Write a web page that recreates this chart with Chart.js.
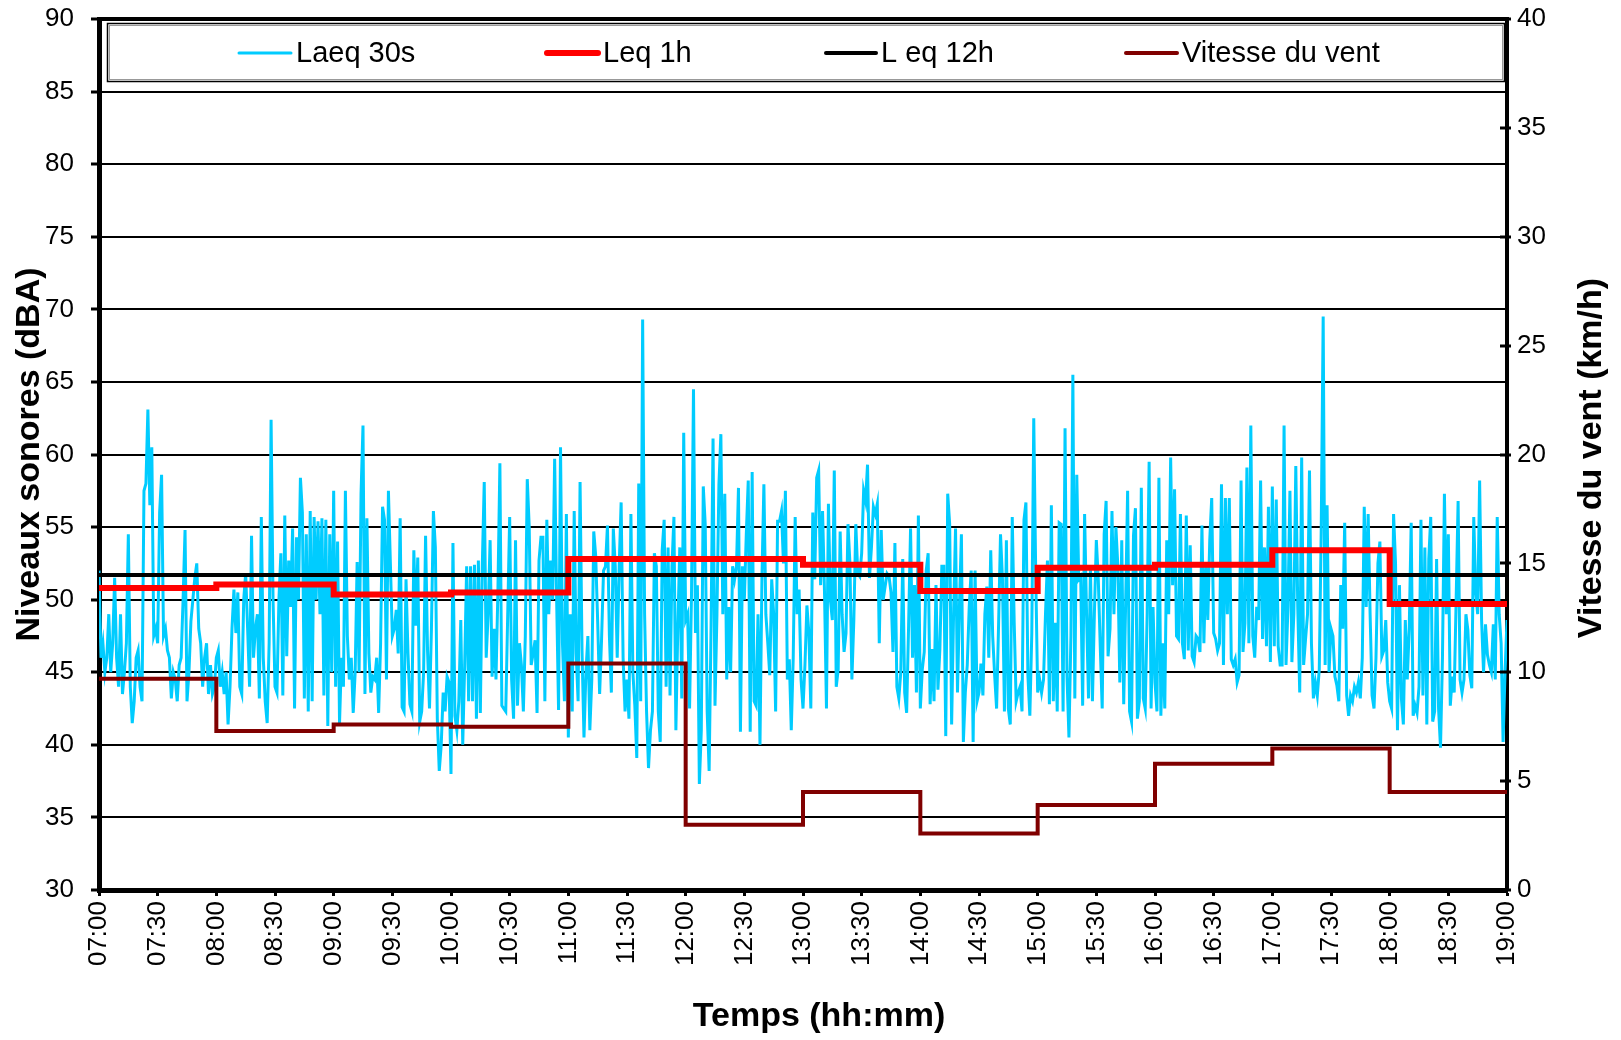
<!DOCTYPE html>
<html>
<head>
<meta charset="utf-8">
<script src="https://cdn.jsdelivr.net/npm/chart.js@4"></script>
<style>
body{margin:0;background:#fff;}
#wrap{width:1621px;height:1040px;}
</style>
</head>
<body>
<div id="wrap"><canvas id="chart" width="1621" height="1040"></canvas></div>
<script>

/* Data : Laeq 30s, one reading per minute, one array per hour */

const laeq07=[52,46,47,45,46,49,45,47,51.5,46,44,49,43.5,45,47,54.5,44,41.5,43,46,46.5,44,43,57.5,58,63.1,56.5,60.5,47.5,48,47,56,58.6,47.5,48,46.5,46,43.2,45,44.5,43,45.5,46,50,54.8,43,45,48.5,50,51.5,52.5,48,47,44,46,47,43.5,45.5,43.5,44];
const laeq08=[46,46.5,44,45,43.5,45,41.4,44,48,50.7,47.7,50.5,44,43.5,50,51.8,48,44,54.4,46,48,49,43.2,55.7,46,43,41.5,47,62.4,50,44,43.6,50,53.2,43.4,55.8,46.1,52.7,49.5,54.9,42.5,54.3,50,58.4,56,43.2,54.5,42.3,56.1,43,55.7,50,55.4,49,55.6,43.4,55.5,41.3,54.5,45];
const laeq09=[57.5,44,54,41.5,46,44,57.5,47.5,44.5,46,42.2,45,52.6,45,57.3,62,43.5,55.6,46.3,43.6,44.7,44.5,46,42.2,47,56.4,55.5,44.5,57.5,52.5,47.5,48,49.3,46.3,55.6,42.6,42.3,51.4,46.3,42.8,42.3,53.4,48.2,52.9,41.6,42.3,45,54.4,46.5,42.5,48,56.1,53.6,41.8,38.2,40,43.6,42.3,44.7,44.3];
const laeq10=[38,53.9,42,41,43,48.6,40,45.5,52.3,43,52.3,43,52.4,41.8,52.7,42.2,52.3,58.1,46,49,54.1,44.7,48,44.5,50.7,59.4,42.7,42.5,42.3,49,55.7,44.5,41.8,54.1,42.7,47,45.5,42.3,47.5,58.3,55,45.5,46.3,47.2,42.2,52.7,54.3,54.3,43,55.5,49,52.7,50,59.7,50.2,42.4,60.5,47,43,55.9];
const laeq11=[40.5,49,42.3,56.1,46.3,43,58.1,46.5,40.5,45,47.5,41,44.5,54.7,53,48.5,43.5,47.3,52,52.3,55.1,47.5,43.6,54.9,52.3,46,52.3,56.7,46,42.3,44.5,41.8,55.9,45,42.7,39.1,58,43,69.3,49,42.3,38.4,41,42.3,53.2,52.3,42.3,40.2,53.4,55.5,44,53.6,43.4,52.3,55.7,41,48.2,53.6,43.2,61.5];
const laeq12=[48.6,49,42.5,50.5,64.5,47.7,51,37.3,41,57.8,55.2,42.3,38.2,48.3,61.1,42.7,49,57.9,61.4,49,57.3,44.5,49.5,45,52.3,51.4,52.3,57.7,40.9,52.3,50,54.5,58.2,40.9,58.8,43,42.7,49,40,51.4,57.95,49,47,44.8,51.4,49,42.3,55.4,55.4,56.1,52.5,57.5,44.5,45.9,41,46,55.7,49,50.7,44.5];
const laeq13=[42.5,45.5,49.6,47.7,42.5,56,51.4,58.4,58.9,51,56.1,50.5,42.5,56.6,50,48.6,58.9,44,45.2,54.7,49,46.4,47.7,55.2,52.5,44.5,48.6,55.2,51.8,51.6,53.2,57.5,56.8,59.3,51.5,53.6,56.4,55.9,56.6,47,54.8,50,50.9,51.8,51.6,50.5,46.4,53.9,44,43.2,45,52.8,43.6,42.2,48.2,54.9,46,51,43.6,55.8];
const laeq14=[42.5,45.2,46.4,52,53.2,42.8,46.6,43,51,43.8,46.6,52.3,52.3,40.6,57.3,55.2,41.4,49,54.9,43.6,49.5,54.5,40.2,43.6,45.5,49.5,52,40.2,52,43,43.6,45.6,43.4,49,50.9,46,53.4,47.5,44.8,42.5,48.2,54.5,51.4,42.3,54.1,42.5,41.4,55.7,48.4,43,43.6,44,42.3,55.5,56.7,44.8,42,47.7,62.5,51.8];
const laeq15=[43.6,44.5,43.6,44.5,49,52.7,42.8,56.5,43,48.4,42.3,55.3,55.2,42.3,61.8,44.7,40.5,47.5,65.5,43.2,58.6,51.4,51.6,42.7,55.9,49,43.2,52.3,43,49,54.1,51.4,46.8,42.5,54.5,56.8,46.1,48,56.1,49,55,52.3,44.3,54.1,42.8,49.8,57.5,42.3,41.6,54.4,56.3,41.8,43,57.7,43.2,42.5,49.1,59.5,42.5,49.5];
const laeq16=[44.3,42.3,58.4,42,47,42.5,54.1,49,59.8,51,57.6,47.5,47.3,55.9,47,45.9,55.8,46.5,53.75,46.1,45.7,47.5,47.3,46.4,55.1,47,52.5,48.6,54.1,57,47.7,47.3,46.5,47,57.95,45.5,57,49,57,45.9,45.5,45.9,44.3,44.8,58.2,46.4,48.4,59.1,47,62,47.5,46,49.5,48.6,58.2,47.3,53.6,46.8,56.4,45.7];
const laeq17=[57.8,46.8,56.9,46.8,45.5,45.5,62,45.5,49.5,57.5,45.7,49,59.2,49.5,43.6,59.8,45.5,47.3,49,58.9,47,43.2,44.3,43.4,45.2,54.8,69.5,45.5,56.5,45,48,47.5,44.7,44.1,43,51,48,55.3,43.4,42,43.4,43,44,43.6,44.3,43.2,46,56.4,49.5,55.9,49,43.4,42.5,46,52.5,54,46.1,46.5,48.6,44.3];
const laeq18=[43,42.5,55.9,52.5,41,51,43.2,41.4,48.6,44.5,48,55.3,42,42.7,42.2,44,55.5,43.4,53.6,41.4,52.8,55.7,41.6,42.3,52.8,42.5,39.8,46,57.3,49,54.5,42.7,44.7,43.6,50,56.8,44.5,43.6,44.5,49,47.9,44.8,43.9,55.7,50.5,49,58.2,48.6,45,48.3,46.2,45.5,45,48.3,44.5,55.7,49,47,40.2,45];
const laeq19=[48.6];

/* Data : hourly values */

const hours=[7,8,9,10,11,12,13,14,15,16,17,18];
const leq1h=[50.8,51.05,50.35,50.5,52.8,52.8,52.4,50.6,52.2,52.4,53.4,49.7];
const leq12h=51.7;
const windSpeed=[9.7,7.3,7.6,7.5,10.4,3.0,4.5,2.6,3.9,5.8,6.5,4.5];

const startHour=7;
const endHour=19;

/* Build series */

const laeq=[].concat(laeq07,laeq08,laeq09,laeq10,laeq11,laeq12,laeq13,laeq14,laeq15,laeq16,laeq17,laeq18,laeq19);

const laeqPts=laeq.map((v,i)=>({x:i,y:v}));

const stepPts=arr=>{
const pts=arr.map((v,i)=>({x:(hours[i]-startHour)*60,y:v}));
pts.push({x:(endHour-startHour)*60,y:arr[arr.length-1]});
return pts;
};

const hhmm=v=>{
const h=startHour+Math.floor(v/60);
const m=v%60;
return String(h).padStart(2,"0")+":"+String(m).padStart(2,"0");
};

const FONT="'Liberation Sans', Arial, sans-serif";

Chart.defaults.color="#000";
Chart.defaults.font.family=FONT;

/* Legend box, titles, right ticks */

const legendItems=[
{label:"Laeq 30s",color:"#00CCFF",width:3,x0:239,x1:291,tx:296},
{label:"Leq 1h",color:"#FF0000",width:6,x0:547,x1:598,tx:603},
{label:"L eq 12h",color:"#000000",width:4,x0:826,x1:876,tx:881},
{label:"Vitesse du vent",color:"#800000",width:4,x0:1126,x1:1177,tx:1182}
];

const decor={
id:"decor",
afterDraw(chart){
const ctx=chart.ctx;
const area=chart.chartArea;
ctx.save();

// legend
ctx.fillStyle="#fff";
ctx.fillRect(107,23,1398,59);
ctx.strokeStyle="#000";
ctx.lineWidth=1.5;
ctx.strokeRect(107.5,23.5,1397,58);
ctx.strokeStyle="#999";
ctx.lineWidth=1;
ctx.strokeRect(109.5,25.5,1393,54);
ctx.font="29px "+FONT;
ctx.textBaseline="middle";
ctx.textAlign="left";
legendItems.forEach(it=>{
ctx.beginPath();
ctx.strokeStyle=it.color;
ctx.lineWidth=it.width;
ctx.lineCap="round";
ctx.moveTo(it.x0,53);
ctx.lineTo(it.x1,53);
ctx.stroke();
ctx.fillStyle="#000";
ctx.fillText(it.label,it.tx,54);
});

// right axis tick marks across the axis line
const y2=chart.scales.y2;
ctx.strokeStyle="#000";
ctx.lineWidth=3;
ctx.lineCap="butt";
y2.ticks.forEach(t=>{
const py=Math.round(y2.getPixelForValue(t.value));
ctx.beginPath();
ctx.moveTo(area.right-7,py);
ctx.lineTo(area.right+4,py);
ctx.stroke();
});

// x title
ctx.fillStyle="#000";
ctx.font="bold 34px "+FONT;
ctx.textAlign="center";
ctx.fillText("Temps (hh:mm)",819,1017);

// right title
ctx.translate(1592,458);
ctx.rotate(-Math.PI/2);
ctx.fillText("Vitesse du vent (km/h)",0,0);
ctx.restore();
}
};

/* Chart */

new Chart(document.getElementById("chart"),{
type:"line",
data:{
datasets:[
{
label:"Laeq 30s",
data:laeqPts,
borderColor:"#00CCFF",
borderWidth:3,
pointRadius:0,
order:4
},
{
label:"Leq 1h",
data:stepPts(leq1h),
borderColor:"#FF0000",
borderWidth:6,
stepped:true,
pointRadius:0,
order:2
},
{
label:"L eq 12h",
data:[{x:0,y:leq12h},{x:(endHour-startHour)*60,y:leq12h}],
borderColor:"#000000",
borderWidth:4,
pointRadius:0,
order:1
},
{
label:"Vitesse du vent",
data:stepPts(windSpeed),
borderColor:"#800000",
borderWidth:4,
stepped:true,
pointRadius:0,
yAxisID:"y2",
order:0
}
]
},
options:{
responsive:false,
animation:false,
devicePixelRatio:1,
layout:{padding:{top:19,left:0,right:0,bottom:0}},
plugins:{legend:{display:false},tooltip:{enabled:false}},
scales:{
x:{
type:"linear",
min:0,
max:(endHour-startHour)*60,
afterFit(s){s.height=150;},
border:{color:"#000",width:5},
grid:{drawOnChartArea:false,drawTicks:true,tickLength:6,tickWidth:3,tickColor:"#000"},
ticks:{
stepSize:30,
autoSkip:false,
minRotation:90,
maxRotation:90,
padding:5,
font:{size:26},
callback:v=>hhmm(v)
}
},
y:{
position:"left",
min:30,
max:90,
afterFit(s){s.width=99;s.paddingTop=0;s.paddingBottom=0;},
border:{color:"#000",width:5},
grid:{
color:"#000",
lineWidth:c=>c.tick&&c.tick.value===90?4:2,
tickLength:8,
tickWidth:3,
tickColor:"#000"
},
ticks:{stepSize:5,padding:17,font:{size:26}},
title:{
display:true,
text:"Niveaux sonores (dBA)",
font:{size:34,weight:"bold"},
padding:{top:9,bottom:0}
}
},
y2:{
position:"right",
min:0,
max:40,
afterFit(s){s.width=114;s.paddingTop=0;s.paddingBottom=0;},
border:{color:"#000",width:4},
grid:{drawOnChartArea:false,drawTicks:false},
ticks:{stepSize:5,padding:10,font:{size:26}}
}
}
},
plugins:[decor]
});

</script>
</body>
</html>
